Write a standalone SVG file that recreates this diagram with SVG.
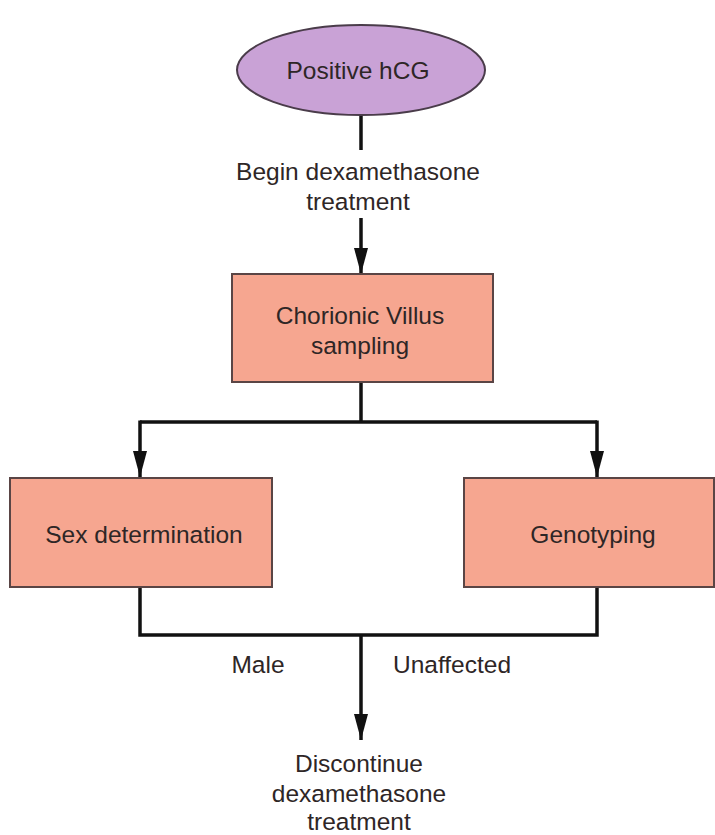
<svg xmlns="http://www.w3.org/2000/svg" width="715" height="835" viewBox="0 0 715 835">
<style>
.t{font-family:"Liberation Sans",Arial,sans-serif;font-size:24.5px;fill:#2e2626;text-anchor:middle}
.box{fill:#f6a690;stroke:#5a4545;stroke-width:2}
.ell{fill:#c9a2d6;stroke:#4a3c4a;stroke-width:2}
.c{fill:none;stroke:#111;stroke-width:3.5}
</style>
<defs>
<marker id="a" viewBox="0 0 26 14" refX="26" refY="7" markerWidth="26" markerHeight="14" markerUnits="userSpaceOnUse" orient="auto">
<path d="M0,0 L26,7 L0,14 Z" fill="#111"/>
</marker>
</defs>
<g id="connectors">
<path class="c" d="M361,115 V150"/>
<path class="c" d="M361,218 V274" marker-end="url(#a)"/>
<path class="c" d="M361,382 V422"/>
<path class="c" d="M140,422 H597"/>
<path class="c" d="M140,420.5 V477" marker-end="url(#a)"/>
<path class="c" d="M597,420.5 V477" marker-end="url(#a)"/>
<path class="c" d="M140,587 V635 H597 V587"/>
<path class="c" d="M361,635 V740" marker-end="url(#a)"/>
<text class="t" x="358" y="180">Begin dexamethasone</text>
<text class="t" x="358" y="210">treatment</text>
<text class="t" x="258" y="673">Male</text>
<text class="t" x="452" y="673">Unaffected</text>
</g>
<g id="n-hcg">
<ellipse class="ell" cx="361" cy="70" rx="124" ry="45"/>
<text class="t" x="358" y="79">Positive hCG</text>
</g>
<g id="n-cvs">
<rect class="box" x="232" y="274" width="261" height="108"/>
<text class="t" x="360" y="324">Chorionic Villus</text>
<text class="t" x="360" y="354">sampling</text>
</g>
<g id="n-sex">
<rect class="box" x="10" y="478" width="262" height="109"/>
<text class="t" x="144" y="543">Sex determination</text>
</g>
<g id="n-geno">
<rect class="box" x="464" y="478" width="250" height="109"/>
<text class="t" x="593" y="543">Genotyping</text>
</g>
<g id="n-disc">
<text class="t" x="359" y="772">Discontinue</text>
<text class="t" x="359" y="802">dexamethasone</text>
<text class="t" x="359" y="830">treatment</text>
</g>
</svg>
